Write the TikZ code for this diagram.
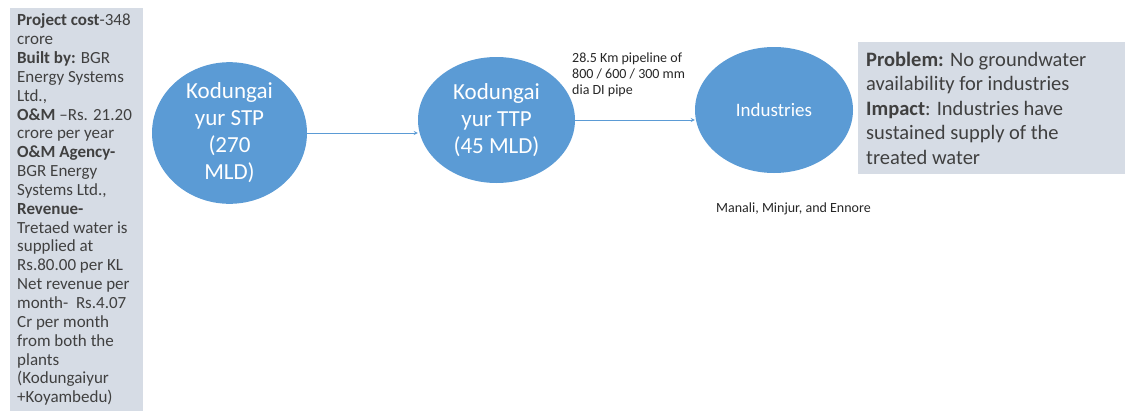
\documentclass[tikz,border=0pt]{standalone}
\usepackage{fontspec}
\setmainfont{Carlito}
\usetikzlibrary{shapes.geometric}

\definecolor{plantblue}{HTML}{5B9BD5}
\definecolor{notefill}{HTML}{D6DCE5}
\definecolor{notetext}{HTML}{404040}

\begin{document}
\begin{tikzpicture}[x = 1pt, y = -1pt,
    plant/.style = {ellipse, fill = plantblue, inner sep = 0pt, text = white, align = center},
    notebox/.style = {rectangle, fill = notefill, inner sep = 0pt, anchor = north west},
    notetxt/.style = {anchor = west, align = left, inner sep = 0pt, text = notetext},
    pipe/.style = {>=stealth, ->, line width = 0.8pt, draw = plantblue}]

    \useasboundingbox (0, 0) rectangle (1125, 415);

    % cost and revenue notes
    \node[notebox, minimum width = 133pt, minimum height = 403pt] (costbox) at (10, 8) {};
    \node[notetxt, font = \fontsize{17}{18.85}\selectfont] (costs) at ([xshift = 7pt] costbox.west)
        {\textbf{Project cost}-348\\
         crore\\
         \textbf{Built by:} BGR\\
         Energy Systems\\
         Ltd.,\\
         \textbf{O\&M} --Rs. 21.20\\
         crore per year\\
         \textbf{O\&M Agency-}\\
         BGR Energy\\
         Systems Ltd.,\\
         \textbf{Revenue-}\\
         Tretaed water is\\
         supplied at\\
         Rs.80.00 per KL\\
         Net revenue per\\
         month-\ \ Rs.4.07\\
         Cr per month\\
         from both the\\
         plants\\
         (Kodungaiyur\\
         +Koyambedu)};

    % plants
    \node[plant, minimum width = 155pt, minimum height = 127pt, font = \fontsize{23}{27}\selectfont]
        (stp) at (229.5, 133) {Kodungai\\yur STP\\(270\\MLD)};
    \node[plant, minimum width = 157pt, minimum height = 126pt, font = \fontsize{23}{27}\selectfont]
        (ttp) at (496.5, 120) {Kodungai\\yur TTP\\(45 MLD)};
    \node[plant, minimum width = 158pt, minimum height = 126pt, font = \fontsize{19}{22}\selectfont]
        (ind) at (774, 110) {Industries};

    \draw[pipe] (stp.east) -- (stp.east -| ttp.west);
    \draw[pipe] (ttp.east) -- (ttp.east -| ind.west);

    \node[anchor = north west, align = left, inner sep = 0pt, text = black!85,
        font = \fontsize{14}{16}\selectfont] (pipelabel) at (572, 52.5)
        {28.5 Km pipeline of\\800 / 600 / 300 mm\\dia DI pipe};
    \node[anchor = base west, inner sep = 0pt, text = black!85,
        font = \fontsize{14}{16}\selectfont] (towns) at (716, 212)
        {Manali, Minjur, and Ennore};

    % problem and impact
    \node[notebox, minimum width = 267pt, minimum height = 132pt] (issuebox) at (858, 42) {};
    \node[notetxt, font = \fontsize{20.5}{24.5}\selectfont] (issues) at ([xshift = 8pt] issuebox.west)
        {\textbf{Problem:} No groundwater\\
         availability for industries\\
         \textbf{Impact}: Industries have\\
         sustained supply of the\\
         treated water};
\end{tikzpicture}
\end{document}
